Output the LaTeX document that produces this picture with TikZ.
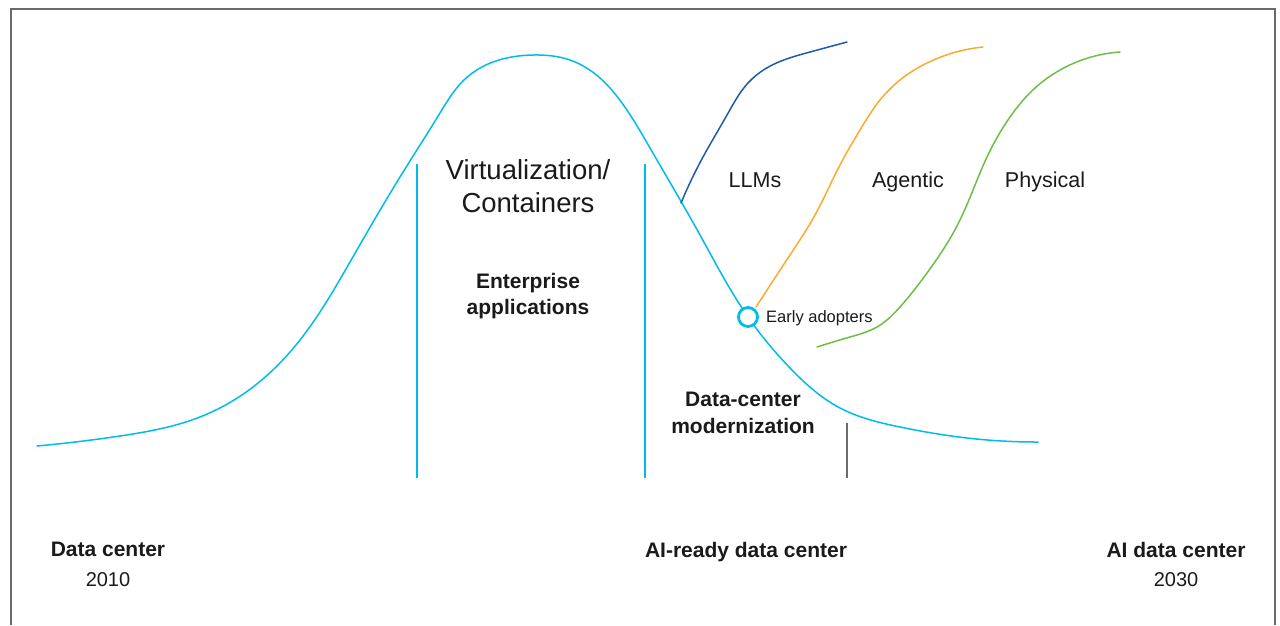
\documentclass[tikz,border=0pt]{standalone}
\usepackage{fontspec}
\setmainfont{Liberation Sans}
\usetikzlibrary{hobby}
\definecolor{cyanc}{HTML}{00BCEB}
\definecolor{llmc}{HTML}{1E5AA8}
\definecolor{agc}{HTML}{FBAB2C}
\definecolor{phc}{HTML}{6CBE45}
\definecolor{framec}{HTML}{6B6B6B}
\definecolor{txtc}{HTML}{1A1A1A}
\tikzset{
  curveline/.style={line width=1.5, line cap=round, line join=round},
  divider/.style={line width=1.5},
  lbl/.style={inner sep=0pt, text=txtc, align=center},
  biglbl/.style={lbl, font=\fontsize{27.5}{33}\selectfont},
  midlbl/.style={lbl, font=\fontsize{21.5}{26}\selectfont},
  boldlbl/.style={lbl, font=\bfseries\fontsize{21}{26.5}\selectfont},
  yearlbl/.style={lbl, font=\fontsize{20}{29.5}\selectfont},
  smalllbl/.style={lbl, font=\fontsize{16.5}{20}\selectfont},
}
\begin{document}
\begin{tikzpicture}[x=1pt,y=-1pt]
\useasboundingbox (0,0) rectangle (1280,625);
% frame
\draw[framec, line width=2.2] (11,625) -- (11,9) -- (1275,9) -- (1275,625);

% dividers
\draw[cyanc, divider] (417,164) -- (417,478);
\draw[cyanc, divider] (645,164) -- (645,478);
\draw[framec, divider] (847,423) -- (847,478);

% bell curve
\draw[cyanc, curveline] (37,446) to[curve through={
 (120,436) (200,417) (253,387) (300,340) (350,262) (400,177) (440,113)
 (464,80) (493,62) (533,55) (570,60) (600,78) (622,103) (650,148) (700,235) (748,317)
 (790,368) (840,408) (900,427) (967,438)}] (1038,442);

% LLMs curve
\draw[llmc, curveline] (681,203) to[curve through={
 (703,157) (727,115) (748,83) (765,69) (810,52)}] (847,42);

% Agentic curve
\draw[agc, curveline] (756,307) to[curve through={
 (790,255) (815,215) (840,165) (860,130) (880,100) (900,80) (927,63)}] (983,47);

% Physical curve
\draw[phc, curveline] (817,347) to[curve through={
 (850,337) (877,327) (900,307) (927,273) (958,224) (987,157) (1010,117) (1035,88) (1060,70)}] (1120,52);

% early adopters marker
\node[circle, draw=cyanc, line width=2.8, fill=white, minimum size=19pt, inner sep=0pt] (ea) at (748,317) {};
\node[smalllbl, anchor=base west] (eal) at (766,322) {Early adopters};

% labels
\node[biglbl] (virt) at (528,186.5) {Virtualization/\\Containers};
\node[boldlbl] (ent) at (528,296) {Enterprise\\applications};
\node[boldlbl] (dcm) at (743,413) {Data-center\\modernization};
\node[midlbl, anchor=base] (llm) at (755,187) {LLMs};
\node[midlbl, anchor=base] (agent) at (908,187) {Agentic};
\node[midlbl, anchor=base] (phys) at (1045,187) {Physical};

\node[yearlbl] (dc) at (108,564.5) {{\bfseries\fontsize{21}{26}\selectfont Data center}\\2010};
\node[boldlbl, anchor=base] (aird) at (746,557) {AI-ready data center};
\node[yearlbl] (aidc) at (1176,564.5) {{\bfseries\fontsize{21}{26}\selectfont AI data center}\\2030};
\end{tikzpicture}
\end{document}
